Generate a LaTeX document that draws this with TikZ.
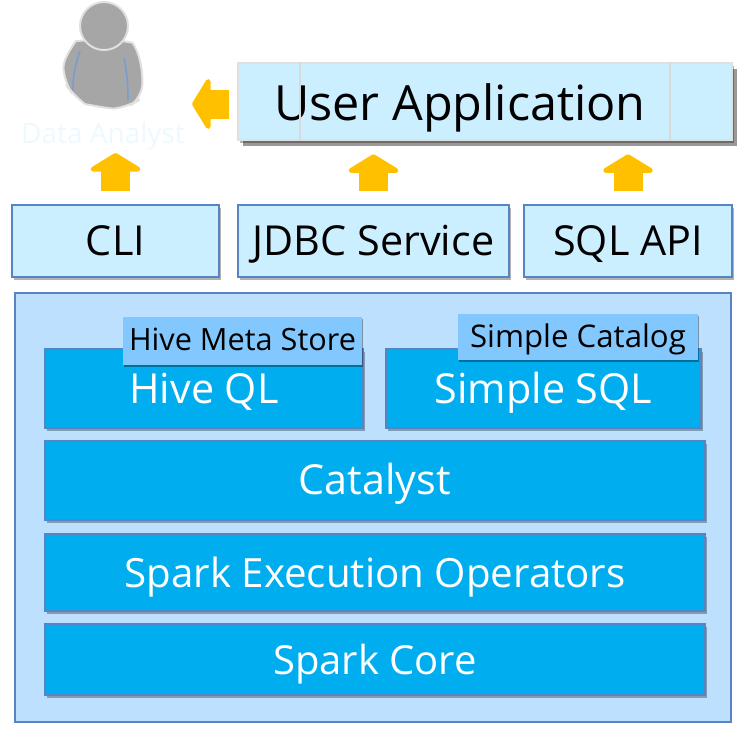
\documentclass[tikz,border=0pt]{standalone}
\usepackage{fontspec}
\setmainfont{Open Sans}
\usetikzlibrary{arrows.meta,shadows}
\definecolor{paleblue}{HTML}{CCEFFF}
\definecolor{panelblue}{HTML}{BDE0FE}
\definecolor{layerblue}{HTML}{00ADEF}
\definecolor{tagblue}{HTML}{82C8FF}
\definecolor{edgeblue}{HTML}{5585C5}
\definecolor{flowgold}{HTML}{FFC000}
\definecolor{personfill}{HTML}{A6A6A6}
\newcommand{\px}{.75pt}
% size, drop of the baseline below the node centre, text
\newcommand{\lbl}[3]{\fontsize{#1}{#1}\selectfont\raisebox{-.75\dimexpr#2\relax}[0pt][0pt]{#3}}
\tikzset{
  box/.style={draw=edgeblue,line width=2.6*\px,inner sep=0pt,anchor=center},
  shade/.style={drop shadow={shadow xshift=1.5*\px,shadow yshift=-3*\px,fill=black,opacity=.3}},
  iface/.style={box,shade,fill=paleblue,text=black},
  layer/.style={box,shade,fill=layerblue,text=white},
  tag/.style={inner sep=0pt,fill=tagblue,text=black,
    drop shadow={shadow xshift=1*\px,shadow yshift=-2*\px,fill=black,opacity=.35}},
  flow/.style={draw=flowgold,line width=29*\px,
    -{Triangle[length=19*\px,width=61*\px,round=false]}},
}
\begin{document}
\begin{tikzpicture}[x=\px,y=-\px]
  \useasboundingbox (0,0) rectangle (753,740);
  % person
  \begin{scope}
    \fill[personfill,draw=black!12,line width=2*\px,rounded corners=14*\px]
      (64,82) .. controls (63,58) and (76,41) .. (90,40)
      -- (118,40) .. controls (134,43) and (143,60) .. (142,98)
      -- (128,107) .. controls (110,109) and (85,104) .. (74,96) -- cycle;
    \filldraw[fill=personfill,draw=black!12,line width=2*\px] (104,26) circle (24*\px);
    \draw[edgeblue!80,line width=1.6*\px] (80,51) .. controls (75,65) and (73,76) .. (73,90);
    \draw[edgeblue!80,line width=1.6*\px] (124,58) .. controls (127,72) and (128,86) .. (128,100);
  \end{scope}
  \node (analyst) at (103,133) {\lbl{21}{10pt}{\color{paleblue!35}Data Analyst}};
  % application and interfaces
  \node (userapp) at (485,101.5) [iface,draw=black!12,minimum width=494*\px,minimum height=77*\px,
    drop shadow={shadow xshift=5*\px,shadow yshift=-6*\px,fill=black,opacity=.4}]
    {\lbl{36.4}{18.5pt}{\kern-37.5pt User Application}};
  \draw[black!15,line width=2*\px] ([xshift=63*\px]userapp.north west) -- ([xshift=63*\px]userapp.south west);
  \draw[black!15,line width=2*\px] ([xshift=-63*\px]userapp.north east) -- ([xshift=-63*\px]userapp.south east);
  \node (cli) at (115.5,241) [iface,minimum width=207*\px,minimum height=72*\px] {\lbl{31}{14pt}{CLI}};
  \node (jdbc) at (373.5,241) [iface,minimum width=271*\px,minimum height=72*\px] {\lbl{31}{14pt}{JDBC Service}};
  \node (sqlapi) at (628,241) [iface,minimum width=208*\px,minimum height=72*\px] {\lbl{31}{14pt}{SQL API}};
  % flows
  \coordinate (analystin) at (192,104);
  \coordinate (analystup) at (116,153);
  \draw[flow,shorten <=8*\px] (userapp.west |- analystin) -- (analystin);
  \draw[flow,shorten <=13*\px] (cli.north) -- (cli.north |- analystup);
  \draw[flow,shorten <=13*\px,shorten >=13*\px] (jdbc.north) -- (jdbc.north |- userapp.south);
  \draw[flow,shorten <=13*\px,shorten >=13*\px] (sqlapi.north) -- (sqlapi.north |- userapp.south);
  % engine
  \node (engine) at (373,507.5) [box,fill=panelblue,minimum width=716*\px,minimum height=429*\px,
    drop shadow={shadow xshift=1*\px,shadow yshift=-1*\px,fill=black,opacity=.15}] {};
  \node (hiveql) at (204,388.5) [layer,minimum width=318*\px,minimum height=79*\px] {\lbl{31}{14.5pt}{Hive QL}};
  \node (simplesql) at (543.5,388.5) [layer,minimum width=315*\px,minimum height=79*\px] {\lbl{31}{14.5pt}{Simple SQL}};
  \node (catalyst) at (375,480.5) [layer,minimum width=660*\px,minimum height=79*\px] {\lbl{31}{14pt}{Catalyst}};
  \node (operators) at (375,572.5) [layer,minimum width=660*\px,minimum height=77*\px] {\lbl{30.2}{14.5pt}{Spark Execution Operators}};
  \node (core) at (375,659.5) [layer,minimum width=660*\px,minimum height=71*\px] {\lbl{30}{14.5pt}{Spark Core}};
  \node (metastore) at (242.5,341) [tag,minimum width=239*\px,minimum height=48*\px] {\lbl{23}{9pt}{Hive Meta Store}};
  \node (catalog) at (578,337) [tag,minimum width=240*\px,minimum height=46*\px] {\lbl{23.4}{10pt}{Simple Catalog}};
\end{tikzpicture}
\end{document}
